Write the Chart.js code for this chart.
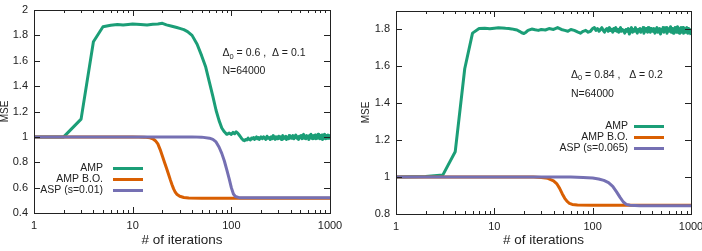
<!DOCTYPE html>
<html><head><meta charset="utf-8">
<script src="https://cdn.jsdelivr.net/npm/chart.js@4.4.0/dist/chart.umd.min.js"></script>
<style>
html,body{margin:0;padding:0;background:#fff;}
#wrap{position:relative;width:702px;height:251px;overflow:hidden;background:#fff;}
.c{position:absolute;top:0;width:351px;height:251px;}
canvas{display:block;}
</style></head><body>
<div id="wrap">
<div class="c" style="left:0"><canvas id="cL" width="351" height="251"></canvas></div>
<div class="c" style="left:351px"><canvas id="cR" width="351" height="251"></canvas></div>
</div>
<script>
// ---------- DATA ----------
const xTicks = [1, 10, 100, 1000];
const xTickLabels = ['1', '10', '100', '1000'];
const yTicksL = [0.4, 0.6, 0.8, 1.0, 1.2, 1.4, 1.6, 1.8, 2.0];
const yTickLabelsL = ['0.4', '0.6', '0.8', '1', '1.2', '1.4', '1.6', '1.8', '2'];
const yTicksR = [0.8, 1.0, 1.2, 1.4, 1.6, 1.8];
const yTickLabelsR = ['0.8', '1', '1.2', '1.4', '1.6', '1.8'];
const seriesNames = ['AMP', 'AMP B.O.'];
const aspNameL = 'ASP (s=0.01)';
const aspNameR = 'ASP (s=0.065)';

// shared iteration counts for the noisy tails (iterations > 100)
const tailX = [104,108,112,116,120,124,128,132,136,140,144,148,152,156,160,164,168,172,176,180,184,188,192,196,200,
  206,212,218,224,230,236,242,248,254,260,266,272,278,284,290,296,302,308,314,320,326,332,338,344,350,356,362,368,374,380,386,392,398,
  410,420,430,440,450,460,470,480,490,500,510,520,530,540,550,560,570,580,590,600,610,620,630,640,650,660,670,680,690,700,
  710,720,730,740,750,760,770,780,790,800,810,820,830,840,850,860,870,880,890,900,910,920,930,940,950,960,970,980,990,1000];

// Left panel: AMP
const ampHeadX_L = [1,2,3,4,5,6,7,8,9,10,12,14,16,18,20,22,25,28,30,33,36,40,45,50,55,60,65,70,75,80,85,90,95,100];
const ampHeadY_L = [1.0,1.0,1.14,1.75,1.868,1.88,1.885,1.882,1.886,1.89,1.886,1.882,1.887,1.89,1.895,1.883,1.872,1.862,1.855,1.845,1.83,1.80,1.73,1.64,1.55,1.43,1.32,1.21,1.13,1.07,1.04,1.02,1.03,1.02];
const ampTailY_L = [1.035,1.025,1.04,1.03,1.015,1.0,0.985,0.975,0.97,0.98,0.975,0.99,0.98,0.975,0.99,0.985,0.995,0.98,0.99,1.0,0.985,0.995,0.98,0.99,1.0,
  0.985,1.0,0.99,0.98,1.005,0.99,0.995,0.98,1.0,0.985,1.01,0.99,0.98,1.0,0.995,0.985,1.005,0.99,1.0,0.98,0.995,1.01,0.985,1.0,0.99,1.005,0.98,0.995,1.0,0.985,1.01,0.99,1.0,
  0.99,1.01,0.985,1.0,1.015,0.99,1.0,0.98,1.005,0.995,1.01,0.985,1.0,1.02,0.99,1.0,0.985,1.01,0.995,1.0,
  0.98,1.01,0.995,1.02,0.99,1.0,0.985,1.01,1.0,0.99,1.015,0.985,1.0,1.01,0.99,1.02,0.995,1.0,0.985,1.01,
  1.0,0.99,1.015,0.98,1.005,1.0,0.99,1.02,0.995,1.0,0.985,1.01,1.0,0.99,1.015,0.995,1.0,0.99,1.01,1.0];
// Left panel: AMP B.O.
const boX_L = [1,10,13,15,16,17,18,19,20,21,22,23,24,25,26,27,28,30,33,37,50,100,1000];
const boY_L = [1.0,1.0,0.998,0.993,0.985,0.97,0.945,0.9,0.85,0.8,0.755,0.71,0.665,0.625,0.59,0.565,0.548,0.532,0.522,0.518,0.517,0.517,0.517];
// Left panel: ASP
const aspX_L = [1,40,50,60,65,70,75,80,85,90,95,100,105,110,120,150,1000];
const aspY_L = [1.0,1.0,0.998,0.99,0.98,0.96,0.92,0.87,0.81,0.74,0.67,0.6,0.55,0.53,0.521,0.52,0.52];

// Right panel: AMP
const ampHeadX_R = [1,2,3,4,5,6,7,8,9,10,11,12,13,14,15,16,17,18,19,20,21,22,24,26,28,30,33,36,40,44,48,52,56,60,65,70,75,80,85,90,95,100];
const ampHeadY_R = [1.0,1.003,1.012,1.137,1.587,1.78,1.805,1.806,1.804,1.807,1.809,1.808,1.806,1.805,1.803,1.8,1.797,1.79,1.782,1.778,1.785,1.795,1.802,1.798,1.795,1.8,1.797,1.805,1.8,1.81,1.8,1.795,1.79,1.8,1.795,1.787,1.78,1.79,1.795,1.785,1.79,1.805];
const ampTailY_R = [1.81,1.795,1.805,1.79,1.8,1.81,1.795,1.785,1.8,1.805,1.79,1.81,1.795,1.8,1.785,1.805,1.795,1.81,1.79,1.8,1.785,1.8,1.81,1.79,1.8,
  1.795,1.78,1.8,1.79,1.805,1.775,1.795,1.81,1.785,1.8,1.79,1.81,1.795,1.78,1.8,1.79,1.805,1.785,1.8,1.795,1.81,1.78,1.8,1.79,1.805,1.795,1.785,1.81,1.79,1.8,1.785,1.805,1.795,
  1.79,1.805,1.78,1.8,1.81,1.785,1.795,1.805,1.775,1.8,1.79,1.81,1.785,1.8,1.795,1.81,1.78,1.795,1.805,1.79,
  1.8,1.815,1.785,1.795,1.805,1.78,1.8,1.79,1.81,1.795,1.785,1.8,1.815,1.79,1.8,1.78,1.805,1.795,1.81,1.785,
  1.8,1.79,1.81,1.78,1.795,1.805,1.79,1.8,1.785,1.81,1.795,1.8,1.78,1.805,1.79,1.8,1.785,1.795,1.78,1.77];
// Right panel: AMP B.O.
const boX_R = [1,25,30,35,40,43,46,49,52,55,58,62,70,100,1000];
const boY_R = [1.0,1.0,0.998,0.993,0.98,0.965,0.94,0.91,0.885,0.868,0.858,0.852,0.849,0.847,0.847];
// Right panel: ASP
const aspX_R = [1,60,80,100,115,130,145,160,175,190,205,220,240,300,1000];
const aspY_R = [1.0,1.0,0.998,0.995,0.99,0.982,0.97,0.95,0.92,0.89,0.865,0.852,0.847,0.845,0.845];

// ---------- STYLE ----------
const COLORS = ['#1b9e77', '#d95f02', '#7570b3'];
const FONT = '"Liberation Sans", Arial, Helvetica, sans-serif';
const TXT = '#222';

function pts(xs, ys) { return xs.map((x, i) => ({x: x, y: ys[i]})); }

const framePlugin = {
  id: 'frame',
  afterDraw(chart, args, o) {
    const {ctx, chartArea: a, scales} = chart;
    const xs = scales.x, ys = scales.y;
    ctx.save();
    ctx.strokeStyle = TXT; ctx.lineWidth = 1;
    ctx.strokeRect(Math.round(a.left) + 0.5, Math.round(a.top) + 0.5, Math.round(a.right - a.left), Math.round(a.bottom - a.top));
    ctx.beginPath();
    for (let d = 1; d < 1000; d *= 10) {
      for (let m = 1; m <= 10; m++) {
        const v = d * m;
        if (v > 1000) break;
        const px = Math.round(xs.getPixelForValue(v)) + 0.5;
        const len = (m === 1 || m === 10) ? 6 : 3;
        ctx.moveTo(px, a.bottom); ctx.lineTo(px, a.bottom - len);
        ctx.moveTo(px, a.top); ctx.lineTo(px, a.top + len);
      }
    }
    o.yTicks.forEach(v => {
      const py = Math.round(ys.getPixelForValue(v)) + 0.5;
      ctx.moveTo(a.left, py); ctx.lineTo(a.left + 6, py);
      ctx.moveTo(a.right, py); ctx.lineTo(a.right - 6, py);
    });
    ctx.stroke();

    const L = o.legend;
    ctx.font = '10.5px ' + FONT; ctx.fillStyle = TXT;
    ctx.textAlign = 'right'; ctx.textBaseline = 'middle';
    chart.data.datasets.forEach((ds, i) => {
      const y = L.rows[i];
      ctx.fillText(ds.label, L.textRight, y);
      ctx.strokeStyle = ds.borderColor; ctx.lineWidth = 3;
      ctx.beginPath(); ctx.moveTo(L.x1, y); ctx.lineTo(L.x2, y); ctx.stroke();
    });

    const A = o.note;
    ctx.textAlign = 'left'; ctx.fillStyle = TXT;
    let x = A.x;
    ctx.font = '10.5px ' + FONT;
    ctx.fillText('\u0394', x, A.y1); x += ctx.measureText('\u0394').width;
    ctx.font = '7.5px ' + FONT;
    ctx.fillText('0', x, A.y1 + 3); x += ctx.measureText('0').width;
    ctx.font = '10.5px ' + FONT;
    ctx.fillText(A.line1, x, A.y1);
    ctx.fillText(A.line2, A.x, A.y2);
    ctx.restore();
  }
};

function makeChart(id, data, cfg) {
  return new Chart(document.getElementById(id), {
    type: 'line',
    data: {
      datasets: data.map((d, i) => ({
        label: d.label, data: d.points,
        borderColor: COLORS[i], backgroundColor: COLORS[i],
        borderWidth: 3, pointRadius: 0, tension: 0, fill: false,
        borderJoinStyle: 'round', order: 3 - i
      }))
    },
    options: {
      responsive: false, animation: false, devicePixelRatio: 1,
      layout: {padding: {left: 0, right: cfg.padR, top: cfg.padT, bottom: 0}},
      plugins: {legend: {display: false}, tooltip: {enabled: false},
        frame: {yTicks: cfg.yTicks, legend: cfg.legend, note: cfg.note}},
      scales: {
        x: {
          type: 'logarithmic', min: 1, max: 1000,
          afterBuildTicks: s => { s.ticks = xTicks.map(v => ({value: v})); },
          afterFit: s => { s.height = cfg.xH; s.paddingLeft = 0; s.paddingRight = 0; },
          grid: {display: false, drawTicks: false}, border: {display: false},
          ticks: {autoSkip: false, maxRotation: 0, padding: 6, color: TXT,
            font: {family: FONT, size: 11},
            callback: (v, i) => xTickLabels[i]},
          title: {display: true, text: '# of iterations', color: TXT,
            font: {family: FONT, size: 13.5, lineHeight: 1.2}, padding: {top: 0, bottom: 3}}
        },
        y: {
          type: 'linear', min: cfg.yMin, max: cfg.yMax,
          afterBuildTicks: s => { s.ticks = cfg.yTicks.map(v => ({value: v})); },
          afterFit: s => { s.width = cfg.yW; s.paddingTop = 0; s.paddingBottom = 0; },
          grid: {display: false, drawTicks: false}, border: {display: false},
          ticks: {padding: 6, color: TXT, font: {family: FONT, size: 11},
            callback: (v, i) => cfg.yLabels[i]},
          title: {display: true, text: 'MSE', color: TXT,
            font: {family: FONT, size: 10, lineHeight: 1.0}, padding: {top: cfg.yTitlePad, bottom: 0}}
        }
      }
    },
    plugins: [framePlugin]
  });
}

makeChart('cL', [
  {label: seriesNames[0], points: pts(ampHeadX_L.concat(tailX), ampHeadY_L.concat(ampTailY_L))},
  {label: seriesNames[1], points: pts(boX_L, boY_L)},
  {label: aspNameL, points: pts(aspX_L, aspY_L)}
], {
  padR: 21, padT: 10, xH: 38, yW: 34, yMin: 0.4, yMax: 2.0,
  yTicks: yTicksL, yLabels: yTickLabelsL, yTitlePad: 0,
  legend: {textRight: 103, x1: 113, x2: 143, rows: [168.5, 179.5, 190.5]},
  note: {x: 222.5, y1: 53.5, y2: 71.5, line1: ' = 0.6 ,  \u0394 = 0.1', line2: 'N=64000'}
});

makeChart('cR', [
  {label: seriesNames[0], points: pts(ampHeadX_R.concat(tailX), ampHeadY_R.concat(ampTailY_R))},
  {label: seriesNames[1], points: pts(boX_R, boY_R)},
  {label: aspNameR, points: pts(aspX_R, aspY_R)}
], {
  padR: 11, padT: 11, xH: 37, yW: 45, yMin: 0.8, yMax: 1.9,
  yTicks: yTicksR, yLabels: yTickLabelsR, yTitlePad: 10,
  legend: {textRight: 277, x1: 283, x2: 313, rows: [126.5, 137.5, 148.5]},
  note: {x: 220, y1: 75, y2: 94, line1: ' = 0.84 ,   \u0394 = 0.2', line2: 'N=64000'}
});
</script>
</body></html>
